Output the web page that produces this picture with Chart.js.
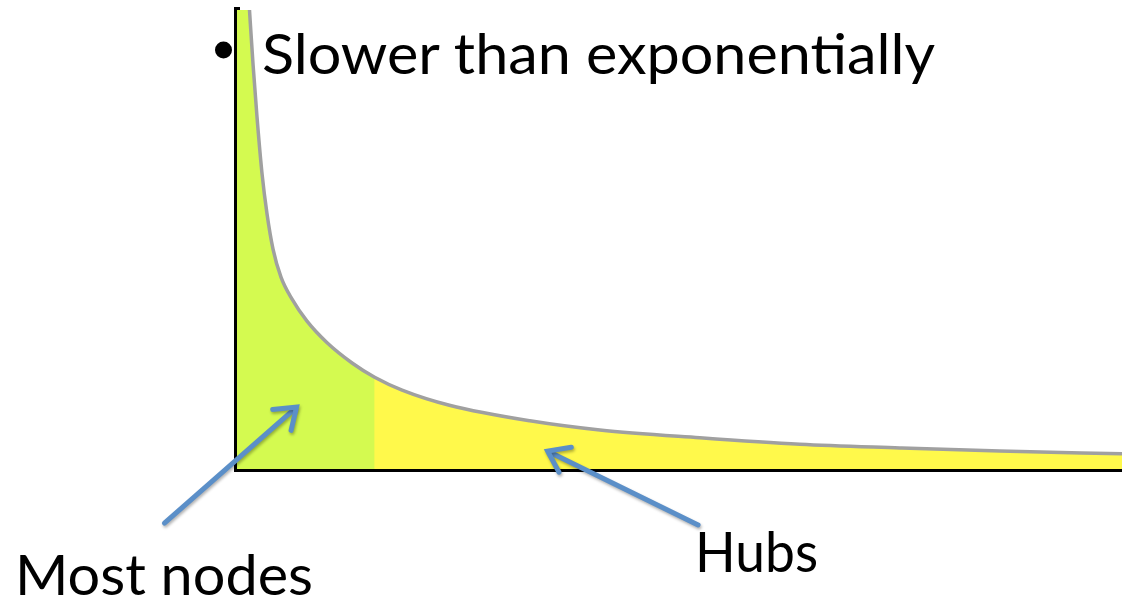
<!DOCTYPE html>
<html>
<head>
<meta charset="utf-8">
<script src="https://cdn.jsdelivr.net/npm/chart.js@4.4.1/dist/chart.umd.min.js"></script>
<style>
  html, body { margin: 0; padding: 0; background: #fff; }
  #wrap { position: relative; width: 1122px; height: 600px; }
  #c { position: absolute; left: 0; top: 0; }
  #txt { position: absolute; left: 0; top: 0; pointer-events: none; }
  #txt text { font-family: Lato, "Open Sans", sans-serif; font-size: 56px; fill: #000; }
</style>
</head>
<body>
<div id="wrap">
  <canvas id="c" width="1122" height="600"></canvas>
  <svg id="txt" width="1122" height="600">
    <circle cx="223.5" cy="50" r="8.5" fill="#000"></circle>
    <text id="t1" x="262" y="74" textLength="673" lengthAdjust="spacingAndGlyphs">Slower than exponentially</text>
    <text id="t2" x="15" y="595" textLength="298" lengthAdjust="spacingAndGlyphs">Most nodes</text>
    <text id="t3" x="695" y="572" textLength="123" lengthAdjust="spacingAndGlyphs">Hubs</text>
  </svg>
</div>
<script>
// Degree distribution curve (x: degree, y: number of nodes)
const degree = [1.41, 1.81, 2.26, 2.83, 3.39, 4.07, 4.97, 6.22, 7.91, 10.18, 13.0, 15.55, 18.65, 24.0, 33.1, 41.0, 52.3, 63.6, 74.9, 86.2, 100];
const count  = [100, 88.2, 76.7, 64.3, 55.6, 47.9, 41.8, 37.0, 32.2, 27.5, 23.1, 20.0, 17.2, 13.9, 10.5, 8.5, 6.8, 5.4, 4.6, 3.9, 3.3];
// boundary between "most nodes" region and "hubs" region (degree)
const splitDegree = 15.55;
// green region extends to the top of the axis at degree 0
const greenStart = { x: 0, y: 100 };

// annotation arrows (data coordinates: tail -> head)
const arrows = [
  { from: { x: -8.2, y: -11.8 }, to: { x: 6.73, y: 13.5 } },
  { from: { x: 52.1, y: -12.2 }, to: { x: 35.1, y: 3.9 } }
];

const pts = degree.map((d, i) => ({ x: d, y: count[i] }));
const greenPts = [greenStart].concat(pts.filter(p => p.x <= splitDegree));
const yellowPts = pts; // drawn underneath; green covers the "most nodes" part

const arrowPlugin = {
  id: 'arrows',
  afterDraw(chart) {
    const { ctx, scales: { x, y } } = chart;
    ctx.save();
    ctx.strokeStyle = '#5B8FC8';
    ctx.lineWidth = 5;
    ctx.lineCap = 'round';
    ctx.lineJoin = 'miter';
    ctx.shadowColor = 'rgba(0,0,0,0.3)';
    ctx.shadowBlur = 3;
    ctx.shadowOffsetX = 1;
    ctx.shadowOffsetY = 2;
    arrows.forEach(a => {
      const x1 = x.getPixelForValue(a.from.x), y1 = y.getPixelForValue(a.from.y);
      const x2 = x.getPixelForValue(a.to.x), y2 = y.getPixelForValue(a.to.y);
      const ang = Math.atan2(y2 - y1, x2 - x1);
      ctx.beginPath();
      ctx.moveTo(x1, y1);
      ctx.lineTo(x2 - 3 * Math.cos(ang), y2 - 3 * Math.sin(ang));
      ctx.stroke();
      const L = 24, h = 0.62;
      ctx.beginPath();
      ctx.moveTo(x2 - L * Math.cos(ang - h), y2 - L * Math.sin(ang - h));
      ctx.lineTo(x2, y2);
      ctx.lineTo(x2 - L * Math.cos(ang + h), y2 - L * Math.sin(ang + h));
      ctx.stroke();
    });
    ctx.restore();
  }
};

new Chart(document.getElementById('c'), {
  type: 'scatter',
  data: {
    datasets: [
      { data: yellowPts, showLine: true, fill: 'origin', backgroundColor: '#FFF94B', borderWidth: 0, pointRadius: 0, cubicInterpolationMode: 'monotone', order: 3 },
      { data: greenPts, showLine: true, fill: 'origin', backgroundColor: '#D4FA50', borderWidth: 0, pointRadius: 0, cubicInterpolationMode: 'monotone', order: 2 },
      { data: pts, showLine: true, fill: false, borderColor: '#A0A0A0', borderWidth: 3.5, pointRadius: 0, cubicInterpolationMode: 'monotone', order: 1 }
    ]
  },
  options: {
    responsive: false,
    animation: false,
    events: [],
    layout: { padding: { left: 237, top: 10, right: 0, bottom: 131 } },
    plugins: { legend: { display: false }, tooltip: { enabled: false } },
    scales: {
      x: {
        type: 'linear', min: 0, max: 100, z: 1,
        ticks: { display: false }, grid: { display: false, drawTicks: false },
        border: { display: true, color: '#000', width: 6 },
        afterFit(s) { s.height = 0; }
      },
      y: {
        type: 'linear', min: 0, max: 100, z: 1,
        ticks: { display: false }, grid: { display: false, drawTicks: false },
        border: { display: true, color: '#000', width: 6 },
        afterFit(s) { s.width = 0; }
      }
    }
  },
  plugins: [arrowPlugin]
});
</script>
</body>
</html>
